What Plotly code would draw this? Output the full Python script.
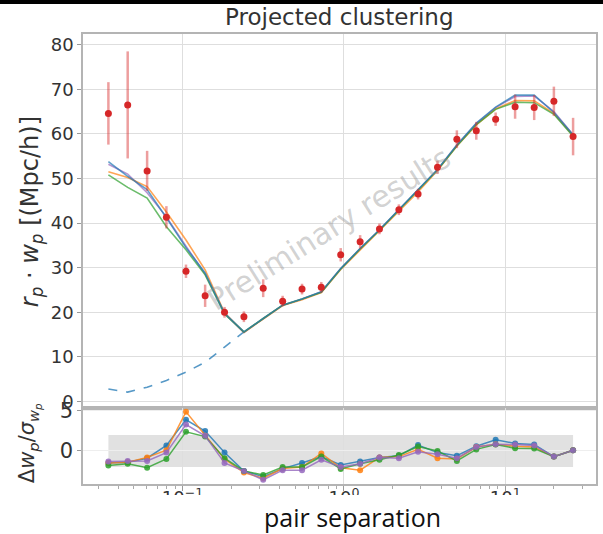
import plotly.graph_objects as go

# Projected separation bins (Mpc/h)
rp = [0.0347, 0.0457, 0.0603, 0.0794, 0.105, 0.138, 0.182, 0.240, 0.316,
      0.417, 0.550, 0.724, 0.955, 1.26, 1.66, 2.19, 2.88, 3.80, 5.01, 6.61,
      8.71, 11.5, 15.1, 20.0, 26.3]

# Measured r_p * w_p with errors
wp_obs = [64.6, 66.5, 51.7, 41.3, 29.2, 23.7, 20.0, 19.0, 25.4, 22.5, 25.2,
          25.6, 32.9, 35.8, 38.7, 43.0, 46.5, 52.5, 58.8, 60.7, 63.3, 66.1,
          65.9, 67.3, 59.4]
wp_err = [7.0, 12.0, 4.5, 2.5, 1.5, 2.5, 1.2, 1.2, 2.0, 1.2, 1.2, 1.2, 1.5,
          1.5, 1.2, 1.2, 1.2, 1.5, 2.0, 2.0, 1.5, 2.7, 2.8, 3.3, 4.2]

# Model predictions
model_blue = [53.8, 50.5, 47.5, 41.2, 34.5, 28.8, 19.8, 15.6, 18.6, 21.6, 23.0,
              24.6, 29.8, 34.3, 38.5, 43.0, 47.3, 52.0, 57.5, 62.4, 66.0, 68.7,
              68.7, 64.8, 59.8]
model_orange = [51.5, 50.2, 48.2, 42.5, 36.2, 29.5, 19.9, 15.5, 18.5, 21.5, 22.8,
                24.4, 29.6, 34.0, 38.2, 42.7, 47.0, 51.8, 57.3, 62.0, 65.6, 67.5,
                67.4, 64.6, 59.6]
model_green = [50.8, 48.0, 45.6, 39.2, 34.0, 28.4, 19.6, 15.6, 18.6, 21.6, 23.0,
               24.5, 29.7, 34.2, 38.4, 42.9, 47.2, 51.9, 57.3, 62.1, 65.5, 67.1,
               67.0, 64.4, 59.5]
model_purple = [53.2, 51.0, 46.8, 41.4, 34.8, 28.6, 19.7, 15.5, 18.6, 21.6, 23.0,
                24.6, 29.8, 34.3, 38.5, 43.0, 47.3, 52.0, 57.5, 62.3, 65.9, 68.4,
                68.5, 65.0, 59.8]

# Two-halo-only term at small scales
rp_2h = rp[:8]
wp_2h = [2.8, 2.1, 3.2, 4.7, 6.6, 8.8, 12.2, 15.6]

# Normalised residuals for each model
res_blue = [-1.5, -1.4, -0.9, 0.7, 3.9, 2.5, -0.2, -2.5, -3.2, -2.2, -1.5, -0.7,
            -1.75, -1.3, -0.8, -0.6, 0.75, -0.2, -0.6, 0.6, 1.4, 0.95, 0.8, -0.7, 0.1]
res_orange = [-1.5, -1.4, -0.8, 0.1, 4.9, 1.9, -1.0, -2.7, -3.4, -2.2, -2.0, -0.3,
              -2.1, -2.4, -0.8, -0.7, 0.2, -0.9, -1.0, 0.5, 0.85, 0.6, 0.5, -0.7, 0.1]
res_green = [-1.8, -1.6, -2.1, -1.0, 2.4, 1.8, -0.9, -2.5, -3.0, -2.0, -2.0, -0.7,
             -2.25, -1.6, -1.1, -0.5, 0.55, 0.0, -1.25, 0.2, 0.8, 0.35, 0.3, -0.7, 0.1]
res_purple = [-1.3, -1.25, -1.25, -0.2, 3.3, 1.9, -1.5, -2.5, -3.6, -2.4, -2.4, -1.1,
              -2.0, -1.6, -0.8, -0.9, -0.1, -0.4, -0.9, 0.5, 0.85, 0.8, 0.7, -0.7, 0.1]

x_ticks = [0.1, 1, 10]
x_ticktext = ["10<sup>−1</sup>", "10<sup>0</sup>", "10<sup>1</sup>"]
x_minor = [m * d for d in (0.01, 0.1, 1, 10) for m in range(2, 10)]

C_BLUE = "31,119,180"
C_ORANGE = "255,127,14"
C_GREEN = "44,160,44"
C_PURPLE = "148,103,189"
C_RED = "214,39,40"

models = [(model_purple, C_PURPLE), (model_orange, C_ORANGE),
          (model_green, C_GREEN), (model_blue, C_BLUE)]
resids = [(res_blue, C_BLUE), (res_orange, C_ORANGE),
          (res_green, C_GREEN), (res_purple, C_PURPLE)]

fig = go.Figure()

# Upper panel: data and models
fig.add_trace(go.Scatter(
    x=rp_2h, y=wp_2h, mode="lines", xaxis="x", yaxis="y",
    line=dict(color=f"rgba({C_BLUE},0.75)", width=1.6, dash="dash"),
    showlegend=False))
for vals, c in models:
    fig.add_trace(go.Scatter(
        x=rp, y=vals, mode="lines", xaxis="x", yaxis="y",
        line=dict(color=f"rgba({c},0.7)", width=1.6), showlegend=False))
fig.add_trace(go.Scatter(
    x=rp, y=wp_obs, mode="markers", xaxis="x", yaxis="y",
    marker=dict(color=f"rgb({C_RED})", size=7),
    error_y=dict(type="data", array=wp_err, color=f"rgba({C_RED},0.45)",
                 thickness=2.5, width=0),
    showlegend=False))

# Lower panel: residuals
for vals, c in resids:
    fig.add_trace(go.Scatter(
        x=rp, y=vals, mode="lines+markers", xaxis="x2", yaxis="y2",
        line=dict(color=f"rgba({c},0.8)", width=1.5),
        marker=dict(color=f"rgba({c},0.85)", size=6), showlegend=False))

FRAME = "#b4b4b4"
GRID = "#dedede"
TICKFONT = dict(family="DejaVu Sans", size=18, color="#333333")

xcommon = dict(type="log", range=[-1.617, 1.562], showgrid=True,
               gridcolor=GRID, gridwidth=1, showline=True, linecolor=FRAME,
               linewidth=1.5, mirror=True, zeroline=False,
               tickvals=x_ticks, ticktext=x_ticktext)

fig.update_layout(
    width=603, height=534,
    margin=dict(l=83, r=5, t=34, b=50),
    paper_bgcolor="white", plot_bgcolor="white",
    xaxis=dict(**xcommon, domain=[0, 1], anchor="y", showticklabels=False,
               ticks=""),
    yaxis=dict(domain=[0.1689, 1], anchor="x", range=[-1.46, 82.4],
               tickvals=[0, 10, 20, 30, 40, 50, 60, 70, 80],
               showgrid=True, gridcolor=GRID, showline=True, linecolor=FRAME,
               linewidth=1.5, mirror=True, zeroline=False, ticks="outside",
               ticklen=4, tickcolor="#999999", tickfont=TICKFONT),
    xaxis2=dict(**xcommon, domain=[0, 1], anchor="y2", ticks="outside",
                ticklen=5, tickcolor="#999999", ticklabelstandoff=-8,
                minor=dict(ticks="outside", ticklen=3, tickcolor="#aaaaaa",
                           tickvals=x_minor, showgrid=False),
                tickfont=dict(family="DejaVu Sans", size=18, color="#333333")),
    yaxis2=dict(domain=[0, 0.1689], anchor="x2", range=[-4.125, 5.375],
                tickvals=[0, 5], showgrid=True, gridcolor="#eeeeee",
                showline=True, linecolor=FRAME, linewidth=1.5, mirror=True,
                zeroline=False, ticks="outside", ticklen=4,
                tickcolor="#999999",
                tickfont=dict(family="DejaVu Sans", size=21, color="#333333")),
)

# Shaded +-2 sigma band across the measured range
fig.add_shape(type="rect", xref="x2", yref="y2", x0=rp[0], x1=rp[-1],
              y0=-2, y1=2, fillcolor="rgba(200,200,200,0.55)", line_width=0,
              layer="below")

# Dark strip along the top edge
fig.add_shape(type="rect", xref="paper", yref="paper", x0=-0.2, x1=1.02,
              y0=1 + 30 / 450, y1=1 + 35 / 450, fillcolor="black",
              line_width=0, layer="above")
# Blank area below the residual axis
fig.add_shape(type="rect", xref="paper", yref="paper", x0=-0.2, x1=1.02,
              y0=-60 / 450, y1=-11 / 450, fillcolor="white",
              line_width=0, layer="above")

fig.add_annotation(text="Projected clustering", xref="paper", yref="paper",
                   x=0.5, y=1 + 17 / 450, showarrow=False, yanchor="middle",
                   font=dict(family="DejaVu Sans", size=23, color="#333333"))
fig.add_annotation(
    text="<i>r</i><sub><i>p</i></sub> · <i>w</i><sub><i>p</i></sub> [(Mpc/h)]",
    xref="paper", yref="paper", x=-52 / 515, y=(484 - 212) / 450,
    textangle=-90, showarrow=False, xanchor="center", yanchor="middle",
    font=dict(family="DejaVu Sans", size=24, color="#333333"))
fig.add_annotation(
    text="Δ<i>w</i><sub><i>p</i></sub>/<i>σ</i><sub><i>w<sub>p</sub></i></sub>",
    xref="paper", yref="paper", x=-54 / 515, y=(484 - 443) / 450,
    textangle=-90, showarrow=False, xanchor="center", yanchor="middle",
    font=dict(family="DejaVu Sans", size=21, color="#333333"))
fig.add_annotation(text="Preliminary results", xref="x", yref="y",
                   x=-0.093, y=38.9, textangle=-32, showarrow=False,
                   font=dict(family="DejaVu Sans", size=30,
                             color="rgba(140,140,140,0.4)"))
fig.add_annotation(text="pair separation", xref="paper", yref="paper",
                   x=(354 - 83) / 515, y=(484 - 517) / 450, showarrow=False,
                   xanchor="center", yanchor="middle",
                   font=dict(family="Open Sans", size=25, color="#111111"))

fig.write_html("out.html")
